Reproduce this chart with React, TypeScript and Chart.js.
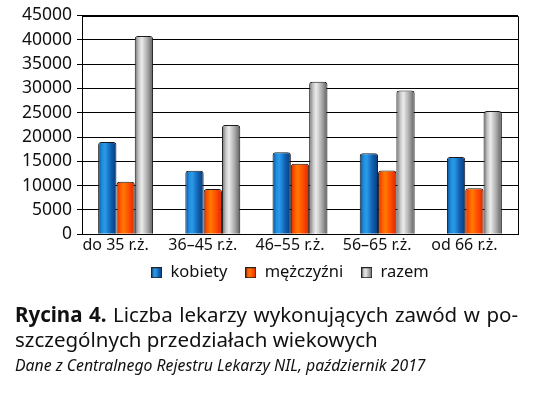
import React, { useEffect, useRef } from "react";
import { Chart, registerables } from "chart.js";

Chart.register(...registerables);

const categories = ["do 35 r.ż.", "36–45 r.ż.", "46–55 r.ż.", "56–65 r.ż.", "od 66 r.ż."];
const kobiety = [19000, 13050, 16900, 16650, 15900];
const mezczyzni = [10800, 9300, 14500, 13100, 9450];
const razem = [40800, 22500, 31400, 29600, 25350];
const seriesNames = ["kobiety", "mężczyźni", "razem"];
const yMax = 45000;
const yStep = 5000;

const palettes: string[][] = [
  ["#0b4c96", "#1f8fe0", "#2a9ae8", "#0f5fb0", "#083a78"],
  ["#e02a00", "#ff5a00", "#ff7a00", "#ff4800", "#d82800"],
  ["#6e6e6e", "#c8c8c8", "#ececec", "#a8a8a8", "#5e5e5e"],
];

const FONT = "'Noto Sans', 'Open Sans', sans-serif";

function makeGrad(ctx: CanvasRenderingContext2D, x0: number, x1: number, stops: string[]) {
  const g = ctx.createLinearGradient(x0, 0, x1, 0);
  g.addColorStop(0, stops[0]);
  g.addColorStop(0.22, stops[1]);
  g.addColorStop(0.38, stops[2]);
  g.addColorStop(0.7, stops[3]);
  g.addColorStop(1, stops[4]);
  return g;
}

const gradientPlugin = {
  id: "cylGradient",
  beforeDatasetsDraw(chart: any) {
    const ctx = chart.ctx;
    chart.data.datasets.forEach((_: any, di: number) => {
      const meta = chart.getDatasetMeta(di);
      meta.data.forEach((el: any) => {
        const w = el.width;
        el.options.backgroundColor = makeGrad(ctx, el.x - w / 2, el.x + w / 2, palettes[di]);
      });
    });
  },
};

const legendShift = {
  id: "legendShift",
  afterLayout(chart: any) {
    const lg = chart.legend;
    if (!lg) return;
    lg.left += 31;
    lg.right += 31;
    lg.top -= 11;
    lg.bottom -= 11;
  },
};

export default function App() {
  const ref = useRef<HTMLCanvasElement>(null);
  useEffect(() => {
    if (!ref.current) return;
    const ctx = ref.current.getContext("2d")!;
    const legendBox = (di: number) => {
      const c = document.createElement("canvas");
      c.width = 11; c.height = 11;
      const cx = c.getContext("2d")!;
      cx.fillStyle = makeGrad(cx, 0, 11, palettes[di]);
      cx.fillRect(0, 0, 11, 11);
      cx.strokeStyle = "#222";
      cx.lineWidth = 1;
      cx.strokeRect(0.5, 0.5, 10, 10);
      return c;
    };
    const data = [kobiety, mezczyzni, razem];
    const chart = new Chart(ctx, {
      type: "bar",
      data: {
        labels: categories,
        datasets: data.map((d, i) => ({
          label: seriesNames[i],
          data: d,
          backgroundColor: () => palettes[i][2],
          borderColor: "#1a1a1a",
          borderWidth: 1,
          borderSkipped: "bottom",
          borderRadius: { topLeft: 3, topRight: 3, bottomLeft: 0, bottomRight: 0 },
          categoryPercentage: 0.63,
          barPercentage: 1.0,
        })),
      },
      options: {
        responsive: false,
        animation: false,
        layout: { padding: { left: 0, right: 16, top: 1, bottom: 0 } },
        plugins: {
          tooltip: { enabled: false },
          legend: {
            position: "bottom",
            labels: {
              font: { family: FONT, size: 16.5 },
              color: "#111",
              boxWidth: 11,
              boxHeight: 11,
              padding: 18,
              usePointStyle: true,
              generateLabels: (ch: any) =>
                ch.data.datasets.map((ds: any, i: number) => ({
                  text: ds.label,
                  pointStyle: legendBox(i),
                  fillStyle: palettes[i][2],
                  strokeStyle: "#222",
                  lineWidth: 1,
                  hidden: false,
                  datasetIndex: i,
                  fontColor: "#111",
                })),
            },
          },
        },
        scales: {
          x: {
            grid: { display: false, drawTicks: false },
            border: { display: true, color: "#000", width: 1 },
            ticks: { font: { family: FONT, size: 16 }, color: "#111", padding: 2, maxRotation: 0, labelOffset: -10 },
          },
          y: {
            min: 0,
            max: yMax,
            afterFit: (s: any) => { s.width = 82; },
            grid: { color: "#000", lineWidth: 1, tickLength: 5, drawTicks: true },
            border: { display: true, color: "#000", width: 1 },
            ticks: {
              stepSize: yStep,
              autoSkip: false,
              font: { family: FONT, size: 17.5 },
              color: "#111",
              padding: 5,
              callback: (v: any) => String(v),
            },
          },
        },
      },
      plugins: [
        gradientPlugin,
        legendShift,
        {
          id: "frame",
          afterDraw(ch: any) {
            const a = ch.chartArea;
            const c = ch.ctx;
            c.save();
            c.strokeStyle = "#000";
            c.lineWidth = 1;
            c.beginPath();
            c.moveTo(a.left, Math.round(a.top) + 0.5);
            c.lineTo(Math.round(a.right) + 0.5, Math.round(a.top) + 0.5);
            c.lineTo(Math.round(a.right) + 0.5, a.bottom);
            c.stroke();
            c.restore();
          },
        },
      ],
    } as any);
    return () => chart.destroy();
  }, []);

  return (
    <div style={{ position: "fixed", left: 0, top: 0, width: 534, height: 396, background: "#fff", fontFamily: FONT }}>
      <canvas ref={ref} width={534} height={302} style={{ position: "absolute", left: 0, top: 0 }} />
      <div style={{ position: "absolute", left: 15, top: 302, width: 503, fontSize: 20.5, lineHeight: "25px", color: "#111" }}>
        <div style={{ textAlign: "justify", textAlignLast: "justify" as any }}>
          <b>Rycina 4.</b> Liczba lekarzy wykonujących zawód w po-
        </div>
        <div>szczególnych przedziałach wiekowych</div>
        <div style={{ fontStyle: "italic", fontSize: 15.8, lineHeight: "22px", marginTop: 2 }}>
          Dane z Centralnego Rejestru Lekarzy NIL, październik 2017
        </div>
      </div>
    </div>
  );
}
